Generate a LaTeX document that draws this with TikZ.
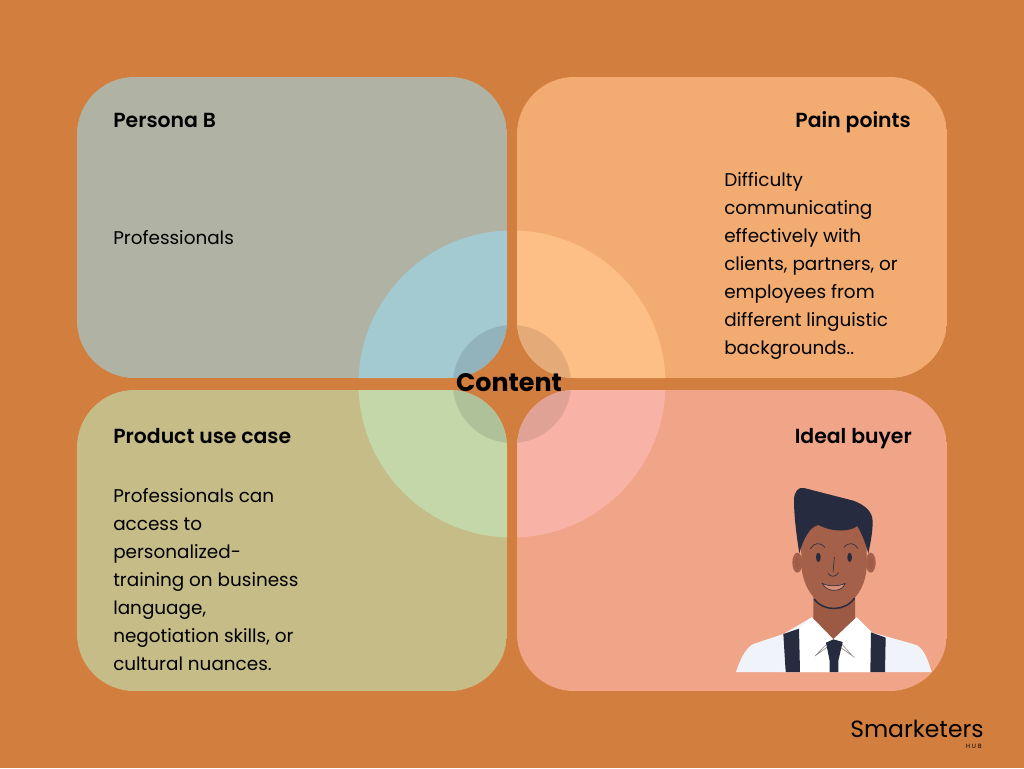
\documentclass[tikz,border=0pt]{standalone}
\usepackage{fontspec}
\setmainfont{Poppins}
\newfontfamily\logofont{Poppins}
\newfontfamily\headfont{Poppins SemiBold}
\definecolor{bgc}{HTML}{D27E3E}
\definecolor{tlc}{HTML}{B0B2A3}
\definecolor{trc}{HTML}{F2AC72}
\definecolor{blc}{HTML}{C6BC87}
\definecolor{brc}{HTML}{F0A488}
\definecolor{tlb}{HTML}{A3C9D1}
\definecolor{trb}{HTML}{FDBF86}
\definecolor{blb}{HTML}{C3D7A9}
\definecolor{brb}{HTML}{F9B2A6}
\definecolor{tls}{HTML}{92B3BB}
\definecolor{trs}{HTML}{E4AB78}
\definecolor{bls}{HTML}{AFC199}
\definecolor{brs}{HTML}{E0A295}
\definecolor{hair}{HTML}{262B40}
\definecolor{skin}{HTML}{A56049}
\definecolor{neckc}{HTML}{9C5944}
\definecolor{shirt}{HTML}{F0F4FA}
\tikzset{
  x=0.75pt,y=-0.75pt,
  bodytext/.style={font=\fontsize{13.8}{21}\selectfont,inner sep=0pt,text=black},
  headtext/.style={font=\fontsize{15.3}{21}\headfont,inner sep=0pt,text=black},
  facet/.style={draw=hair,line width=0.45pt,line cap=round},
}
\newcommand{\quadrant}[6]{%
  \begin{scope}
    \clip[rounded corners=43pt] (#1,#2) rectangle (#3,#4);
    \fill[#5] (#1,#2) rectangle (#3,#4);
    \fill[#6] (512,384) circle[radius=153.5];
  \end{scope}}
\newcommand{\innerq}[5]{%
  \begin{scope}
    \clip[rounded corners=43pt] (#1,#2) rectangle (#3,#4);
    \fill[#5] (512,384) circle[radius=59];
  \end{scope}}
\begin{document}
\begin{tikzpicture}
\useasboundingbox (0,0) rectangle (1024,768);
\fill[bgc] (0,0) rectangle (1024,768);
\quadrant{77}{77}{507}{378}{tlc}{tlb}
\quadrant{517}{77}{947}{378}{trc}{trb}
\quadrant{77}{390}{507}{691}{blc}{blb}
\quadrant{517}{390}{947}{691}{brc}{brb}
\innerq{77}{77}{507}{378}{tls}
\innerq{517}{77}{947}{378}{trs}
\innerq{77}{390}{507}{691}{bls}
\innerq{517}{390}{947}{691}{brs}

\node[headtext,anchor=base west] (ha) at (113,127) {Persona B};
\node[headtext,anchor=base east] (hb) at (911,127) {Pain points};
\node[headtext,anchor=base west] (hc) at (113,443) {Product use case};
\node[headtext,anchor=base east] (hd) at (912,443) {Ideal buyer};
\node[bodytext,anchor=base west] (ta) at (113,244) {Professionals};
\node[bodytext,anchor=north west,align=left] (tb) at (724,172) {Difficulty\\communicating\\effectively with\\clients, partners, or\\employees from\\different linguistic\\backgrounds..};
\node[bodytext,anchor=north west,align=left] (tc) at (113,488) {Professionals can\\access to\\personalized-\\training on business\\language,\\negotiation skills, or\\cultural nuances.};
\node[font=\fontsize{19}{21}\selectfont\bfseries,inner sep=0pt,text=black] (ct) at (509,383) {Content};
\node[font=\fontsize{17.6}{20}\logofont,inner sep=0pt,anchor=base west,text=black] (lg) at (850,737) {Smarketers};
\node[font=\fontsize{4.6}{5}\logofont,inner sep=0pt,anchor=base east,text=black] (lh) at (982,748) {H\hspace{1.4pt}U\hspace{1.4pt}B};

\begin{scope}[shift={(720,470)},x=0.25pt,y=-0.25pt]
  % shirt
  \fill[shirt] (48,606) .. controls (60,570) and (75,535) .. (100,522) -- (190,492) -- (275,442) -- (340,505) -- (410,442) -- (455,487) -- (590,525) .. controls (615,540) and (625,575) .. (635,606) -- cycle;
  % white collar and front
  \fill[white] (190,606) -- (237,476) -- (275,442) -- (340,505) -- (410,442) -- (455,487) -- (455,606) -- cycle;
  % neck
  \fill[neckc] (280,370) -- (405,370) -- (405,445) -- (340,507) -- (280,445) -- cycle;
  % ears
  \fill[skin] (232,278) ellipse[x radius=15,y radius=30];
  \fill[skin] (452,278) ellipse[x radius=15,y radius=30];
  \fill[neckc!60!skin] (232,280) ellipse[x radius=7,y radius=18];
  \fill[neckc!60!skin] (452,280) ellipse[x radius=7,y radius=18];
  % face
  \fill[skin] (243,140) -- (440,140) -- (440,290) .. controls (438,355) and (395,412) .. (345,415) .. controls (290,412) and (250,355) .. (244,290) -- cycle;
  % hair
  \fill[hair] (222,90) .. controls (222,65) and (235,50) .. (252,54) -- (400,92) .. controls (435,105) and (458,125) .. (458,155) .. controls (458,190) and (450,225) .. (445,250) .. controls (435,215) and (425,190) .. (412,168) .. controls (390,185) and (340,188) .. (295,165) .. controls (270,170) and (250,205) .. (238,250) .. controls (230,200) and (222,140) .. (222,90) -- cycle;
  % face details
  \fill[hair] (295,262) ellipse[x radius=7,y radius=14];
  \fill[hair] (389,262) ellipse[x radius=7,y radius=14];
  \draw[facet] (271,236) .. controls (280,218) and (302,215) .. (314,232);
  \draw[facet] (372,232) .. controls (385,215) and (405,218) .. (414,236);
  \draw[facet] (343,262) -- (339,306);
  \draw[facet] (325,310) .. controls (328,322) and (350,322) .. (355,308);
  \draw[facet,fill=brc!70!skin] (307,340) .. controls (325,350) and (355,350) .. (375,340) .. controls (368,368) and (318,368) .. (307,340) -- cycle;
  \draw[draw=hair,line width=1.1pt,line cap=round] (283,388) .. controls (310,425) and (375,425) .. (403,385);
  % suspenders
  \fill[hair] (190,492) -- (237,476) -- (240,606) -- (197,606) -- cycle;
  \fill[hair] (453,487) -- (497,503) -- (495,606) -- (451,606) -- cycle;
  % collar lines
  \draw[draw=black!45,line width=0.45pt] (320,522) -- (285,558) -- (330,525);
  \draw[draw=black!45,line width=0.45pt] (365,522) -- (398,558) -- (358,530);
  % tie
  \fill[hair] (318,518) -- (340,508) -- (368,516) -- (355,572) -- (355,606) -- (329,606) -- (329,572) -- cycle;
\end{scope}
\end{tikzpicture}
\end{document}
